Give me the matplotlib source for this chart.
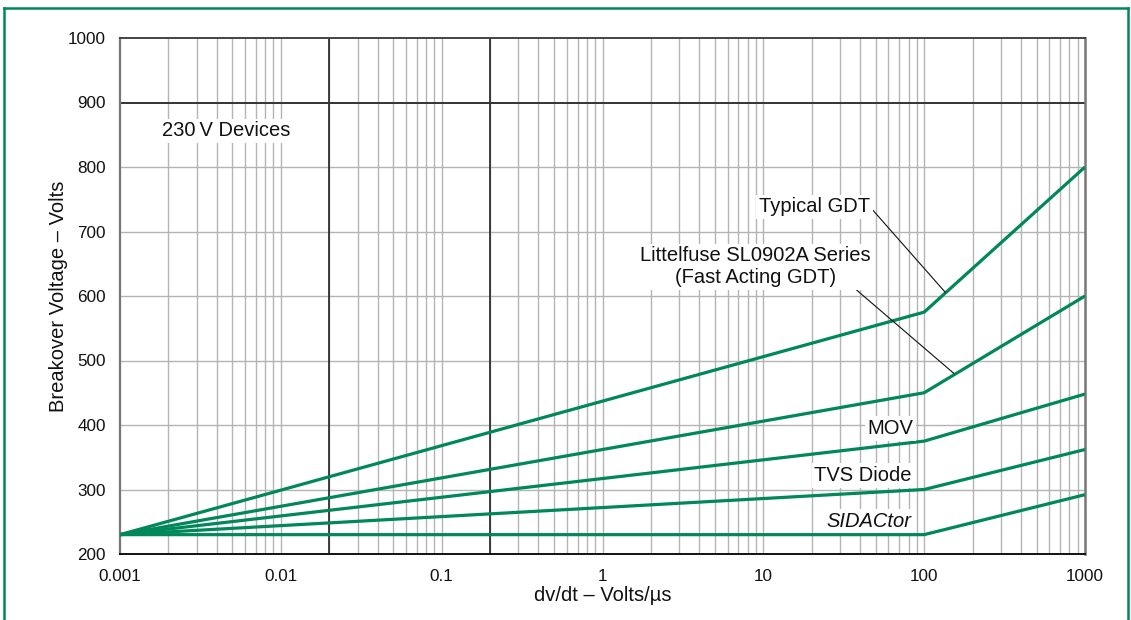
import numpy as np
import matplotlib
matplotlib.use("Agg")
import matplotlib.pyplot as plt
from matplotlib.lines import Line2D
from matplotlib.ticker import FixedLocator, NullFormatter

plt.rcParams['font.family'] = ['Liberation Sans', 'DejaVu Sans']

# dv/dt breakpoints (V/us) and breakover voltage of each device (V)
dvdt = [0.001, 100, 1000]
typical_gdt = [230, 575, 800]
sl0902a = [230, 450, 600]
mov = [230, 375, 448]
tvs_diode = [230, 300, 362]
sidactor = [230, 230, 292]

x_ticks = [0.001, 0.01, 0.1, 1, 10, 100, 1000]
x_tick_labels = ['0.001', '0.01', '0.1', '1', '10', '100', '1000']
y_ticks = [200, 300, 400, 500, 600, 700, 800, 900, 1000]

green = '#00875a'
grid_gray = '#b4b4b4'
dark = '#222222'

fig = plt.figure(figsize=(11.31, 6.2), dpi=100)
ax = fig.add_axes([120 / 1131, 66 / 620, 965 / 1131, 516 / 620])

ax.set_xscale('log')
ax.set_xlim(0.001, 1000)
ax.set_ylim(200, 1000)

# minor log grid across every decade
minor = [m * 10.0 ** e for e in range(-3, 3) for m in range(2, 10)]
for xv in minor + [0.01, 0.1, 1, 10, 100]:
    ax.axvline(xv, color=grid_gray, lw=1.0, zorder=1)
for yv in [300, 400, 500, 600, 700, 800]:
    ax.axhline(yv, color=grid_gray, lw=1.0, zorder=1)
# heavier reference lines
for xv in [0.02, 0.2]:
    ax.axvline(xv, color=dark, lw=1.2, zorder=1.5)
ax.axhline(900, color='#333333', lw=1.4, zorder=1.5)

for series in [typical_gdt, sl0902a, mov, tvs_diode, sidactor]:
    ax.plot(dvdt, series, color=green, lw=2.3, zorder=3, solid_capstyle='butt')

ax.xaxis.set_major_locator(FixedLocator(x_ticks))
ax.xaxis.set_minor_formatter(NullFormatter())
ax.set_xticks(x_ticks)
ax.set_xticklabels(x_tick_labels)
ax.set_yticks(y_ticks)
ax.tick_params(axis='both', which='both', length=0, labelsize=12.3, colors='#111111')
ax.tick_params(axis='x', pad=10.5)
ax.tick_params(axis='y', pad=10)

ax.spines['left'].set_color('#777777')
ax.spines['left'].set_linewidth(1.6)
ax.spines['right'].set_color('#777777')
ax.spines['right'].set_linewidth(1.8)
ax.spines['top'].set_color('#444444')
ax.spines['top'].set_linewidth(1.4)
ax.spines['bottom'].set_color('#111111')
ax.spines['bottom'].set_linewidth(1.4)

ax.set_xlabel('dv/dt \u2013 Volts/\u00b5s', fontsize=14.5, labelpad=2, color='#111111')
ax.set_ylabel('Breakover Voltage \u2013 Volts', fontsize=14.5, labelpad=0, color='#111111')

box = dict(facecolor='white', edgecolor='none', pad=2)
txt = dict(fontsize=14.5, color='#111111', zorder=4, bbox=box)

ax.text(0.00182, 856, '230\u2009V Devices', ha='left', va='center', **txt)
ax.text(46, 738, 'Typical GDT', ha='right', va='center', **txt)
ax.text(8.9, 645, 'Littelfuse SL0902A Series\n(Fast Acting GDT)', ha='center',
        va='center', linespacing=1.2, **txt)
ax.text(86, 395, 'MOV', ha='right', va='center', **txt)
ax.text(84, 322, 'TVS Diode', ha='right', va='center', **txt)
ax.text(83.5, 251, 'SIDACtor', ha='right', va='center', style='italic', **txt)

# leader lines from labels to curves
ax.plot([48, 135], [733, 606], color='#111111', lw=0.8, zorder=3.5)
ax.plot([31.4, 153], [627, 480], color='#111111', lw=0.8, zorder=3.5)

# green frame (open at the bottom)
fy = 1 - 8 / 620
fx0 = 3.5 / 1131
fx1 = 1127.5 / 1131
for xs, ys in [([fx0, fx1], [fy, fy]), ([fx0, fx0], [fy, 0]), ([fx1, fx1], [fy, 0])]:
    fig.add_artist(Line2D(xs, ys, transform=fig.transFigure, color=green, lw=1.8))

fig.savefig('out.png', dpi=100)
